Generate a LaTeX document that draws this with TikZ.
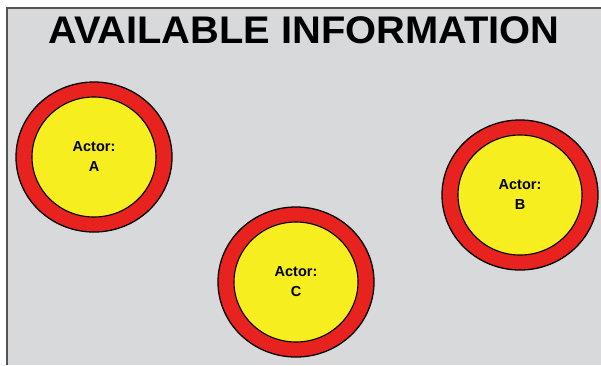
\documentclass[tikz,border=0pt]{standalone}
\usepackage{fontspec}
\setmainfont{Liberation Sans}
\definecolor{bggray}{RGB}{216,217,219}
\definecolor{ringred}{RGB}{232,34,30}
\definecolor{innery}{RGB}{246,238,30}
\definecolor{framegray}{RGB}{85,85,85}
\tikzset{
  ring/.style={draw=black,line width=1.3pt,fill=ringred},
  core/.style={draw=black,line width=1.1pt,fill=innery},
  actorlabel/.style={font=\fontsize{14.5}{20}\selectfont\bfseries,align=center,text=black,inner sep=0pt},
}
\begin{document}
\begin{tikzpicture}[x=1pt,y=-1pt]
\useasboundingbox (0,0) rectangle (601,365);
\fill[white] (0,0) rectangle (601,365);
\fill[bggray] (6,7) rectangle (601,365);
\draw[framegray,line width=1.8pt] (6.9,365) -- (6.9,7.9) -- (601,7.9);
\node[font=\fontsize{38.5}{40}\selectfont\bfseries,inner sep=0pt,xscale=1.035] (title) at (304,30) {AVAILABLE INFORMATION};
% Actor A
\draw[ring] (94,157) ellipse [x radius=78,y radius=75];
\draw[core] (94,157) ellipse [x radius=62,y radius=60];
\node[actorlabel] (a) at (94,157) {Actor:\\A};
% Actor C
\draw[ring] (296,282) ellipse [x radius=78,y radius=75];
\draw[core] (296,282) ellipse [x radius=62,y radius=60];
\node[actorlabel] (c) at (296,282) {Actor:\\C};
% Actor B
\draw[ring] (520,195) ellipse [x radius=78,y radius=75];
\draw[core] (520,195) ellipse [x radius=62,y radius=60];
\node[actorlabel] (b) at (520,195) {Actor:\\B};
\end{tikzpicture}
\end{document}
